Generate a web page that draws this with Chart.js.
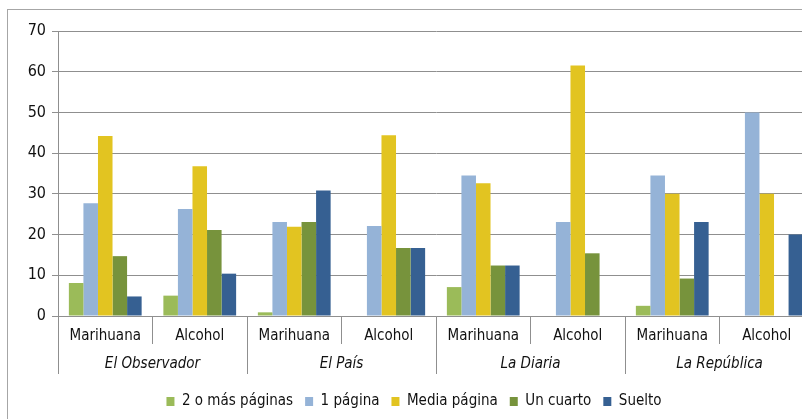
<!DOCTYPE html>
<html>
<head>
<meta charset="utf-8">
<script src="https://cdn.jsdelivr.net/npm/chart.js@4.4.1/dist/chart.umd.min.js"></script>
<style>
    html, body { margin: 0; padding: 0; background: #fff; overflow: hidden; width: 802px; height: 419px; }
    #box {
        position: absolute; left: 7px; top: 9px;
        width: 818px; height: 420px;
        border: 1px solid #a6a6a6; box-sizing: border-box;
    }
    canvas { display: block; }
</style>
</head>
<body>
<div id="box"><canvas id="chart"></canvas></div>
<script>
// Categories (two-level x axis)
const categories = ['Marihuana', 'Alcohol', 'Marihuana', 'Alcohol', 'Marihuana', 'Alcohol', 'Marihuana', 'Alcohol'];
const newspapers = ['El Observador', 'El País', 'La Diaria', 'La República'];

// Series (%)
const dosOMas = [8.1, 5.0, 0.9, 0, 7.1, 0, 2.5, 0];
const unaPagina = [27.7, 26.3, 23.1, 22.1, 34.5, 23.1, 34.5, 50];
const mediaPagina = [44.2, 36.8, 21.9, 44.4, 32.6, 61.5, 30, 30];
const unCuarto = [14.7, 21.1, 23.1, 16.7, 12.4, 15.4, 9.2, 0];
const suelto = [4.8, 10.4, 30.8, 16.7, 12.4, 0, 23.1, 20];

const yTicks = [0, 10, 20, 30, 40, 50, 60, 70];

const font = "'Liberation Sans Narrow', 'DejaVu Sans Condensed', 'Arial Narrow', sans-serif";
const gridGray = '#8f8f8f';
const textColor = '#111';

function bars(label, data, color) {
    return {
        label: label,
        data: data,
        backgroundColor: color,
        borderWidth: 0
    };
}

document.addEventListener('DOMContentLoaded', () => {
    const ctx = document.getElementById('chart').getContext('2d');
    new Chart(ctx, {
        type: 'bar',
        data: {
            labels: categories,
            datasets: [
                bars('2 o más páginas', dosOMas, '#9bbb59'),
                bars('1 página', unaPagina, '#95b3d7'),
                bars('Media página', mediaPagina, '#e2c421'),
                bars('Un cuarto', unCuarto, '#77933c'),
                bars('Suelto', suelto, '#366092')
            ]
        },
        options: {
            responsive: true,
            maintainAspectRatio: false,
            animation: false,
            layout: { padding: { top: 21, left: 6, right: 10, bottom: 9 } },
            datasets: { bar: { categoryPercentage: 0.77, barPercentage: 1 } },
            plugins: {
                tooltip: { enabled: false },
                legend: {
                    position: 'bottom',
                    labels: {
                        color: textColor,
                        font: { family: font, size: 15 },
                        boxWidth: 8,
                        boxHeight: 9,
                        padding: 12
                    }
                }
            },
            scales: {
                y: {
                    min: 0,
                    max: 70,
                    afterFit: s => { s.width = 44; },
                    afterBuildTicks: s => { s.ticks = yTicks.map(v => ({ value: v })); },
                    ticks: {
                        color: textColor,
                        padding: 6,
                        font: { family: font, size: 16 }
                    },
                    grid: { color: gridGray, tickLength: 6 },
                    border: { color: gridGray }
                },
                x: {
                    position: 'bottom',
                    afterFit: s => { s.height = 28; },
                    ticks: {
                        color: textColor,
                        padding: -17,
                        maxRotation: 0,
                        autoSkip: false,
                        font: { family: font, size: 15, lineHeight: '18px' }
                    },
                    grid: { offset: true, drawOnChartArea: false, tickLength: 28, color: gridGray },
                    border: { color: gridGray }
                },
                paper: {
                    type: 'category',
                    labels: newspapers,
                    position: 'bottom',
                    offset: true,
                    afterFit: s => { s.height = 38; },
                    ticks: {
                        color: textColor,
                        padding: -19,
                        maxRotation: 0,
                        autoSkip: false,
                        font: { family: font, size: 15, style: 'italic', lineHeight: '18px' }
                    },
                    grid: { offset: true, drawOnChartArea: false, tickLength: 30, color: gridGray },
                    border: { display: false }
                }
            }
        }
    });
});
</script>
</body>
</html>
